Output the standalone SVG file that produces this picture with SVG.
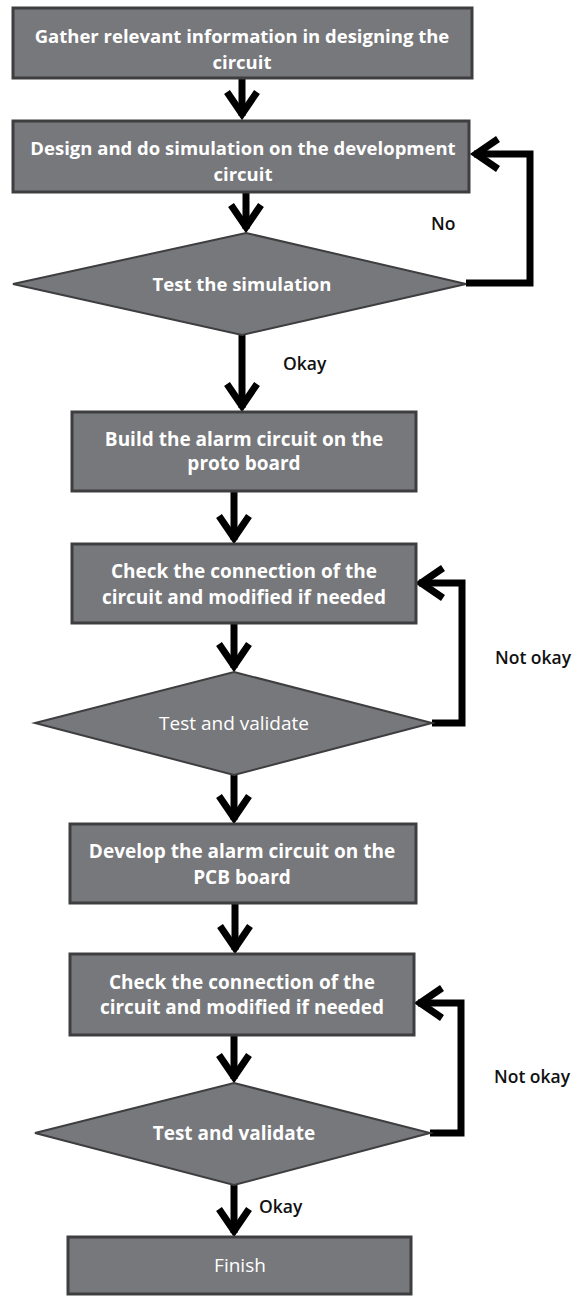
<svg xmlns="http://www.w3.org/2000/svg" width="576" height="1296" viewBox="0 0 576 1296">
<style>
.box{fill:#77787b;stroke:#3e3e40;stroke-width:3}
.dia{fill:#77787b;stroke:#3e3e40;stroke-width:2}
.t{font-family:"Open Sans","Liberation Sans",sans-serif;font-size:18.5px;font-weight:bold;fill:#ffffff;text-anchor:middle;dominant-baseline:central}
.b{font-size:19px}
.tr{font-weight:normal}
.lbl{font-family:"Open Sans","Liberation Sans",sans-serif;font-size:17.5px;font-weight:600;fill:#111;dominant-baseline:central}
.con{fill:none;stroke:#000;stroke-width:7;stroke-linejoin:miter}
</style>
<defs>
<marker id="chev" markerUnits="userSpaceOnUse" viewBox="-34 -22 40 44" markerWidth="40" markerHeight="44" refX="0" refY="0" orient="auto" overflow="visible">
<path d="M-24,-15 L-2,0 L-24,15" fill="none" stroke="#000" stroke-width="7" stroke-linejoin="miter"/>
</marker>
</defs>
<rect width="576" height="1296" fill="#fff"/>
<g id="connectors">
<path class="con" d="M242,78 V116" marker-end="url(#chev)"/>
<path class="con" d="M246,192 V229" marker-end="url(#chev)"/>
<path class="con" d="M242,335 V408" marker-end="url(#chev)"/>
<path class="con" d="M234,491 V540" marker-end="url(#chev)"/>
<path class="con" d="M234,623 V668" marker-end="url(#chev)"/>
<path class="con" d="M234,775 V820" marker-end="url(#chev)"/>
<path class="con" d="M235,903 V950" marker-end="url(#chev)"/>
<path class="con" d="M234,1035 V1079" marker-end="url(#chev)"/>
<path class="con" d="M234,1185 V1233" marker-end="url(#chev)"/>
<path class="con" d="M466,283 H530 V154 H474" marker-end="url(#chev)"/>
<path class="con" d="M432,723 H462 V583 H419" marker-end="url(#chev)"/>
<path class="con" d="M430,1133 H461 V1003 H418" marker-end="url(#chev)"/>
<text class="lbl" x="431" y="223">No</text>
<text class="lbl" x="283" y="363">Okay</text>
<text class="lbl" x="495" y="657">Not okay</text>
<text class="lbl" x="494" y="1076">Not okay</text>
<text class="lbl" x="259" y="1206">Okay</text>
</g>
<g id="n1">
<rect class="box" x="13" y="8" width="459" height="70"/>
<text class="t" x="242" y="35">Gather relevant information in designing the</text>
<text class="t" x="242" y="61">circuit</text>
</g>
<g id="n2">
<rect class="box" x="13" y="121" width="456" height="71"/>
<text class="t" x="243" y="147">Design and do simulation on the development</text>
<text class="t" x="243" y="173">circuit</text>
</g>
<g id="n3">
<polygon class="dia" points="246,233 466,284 242,335 13,284"/>
<text class="t" x="242" y="283">Test the simulation</text>
</g>
<g id="n4">
<rect class="box" x="72" y="412" width="344" height="79"/>
<text class="t b" x="244" y="439">Build the alarm circuit on the</text>
<text class="t b" x="244" y="463">proto board</text>
</g>
<g id="n5">
<rect class="box" x="72" y="544" width="344" height="79"/>
<text class="t b" x="244" y="571">Check the connection of the</text>
<text class="t b" x="244" y="597">circuit and modified if needed</text>
</g>
<g id="n6">
<polygon class="dia" points="234,672 432,723 234,775 35,723"/>
<text class="t b tr" x="234" y="723">Test and validate</text>
</g>
<g id="n7">
<rect class="box" x="70" y="824" width="346" height="79"/>
<text class="t b" x="242" y="851">Develop the alarm circuit on the</text>
<text class="t b" x="242" y="877">PCB board</text>
</g>
<g id="n8">
<rect class="box" x="70" y="954" width="344" height="81"/>
<text class="t b" x="242" y="982">Check the connection of the</text>
<text class="t b" x="242" y="1007">circuit and modified if needed</text>
</g>
<g id="n9">
<polygon class="dia" points="234,1083 430,1133 234,1185 35,1133"/>
<text class="t b" x="234" y="1133">Test and validate</text>
</g>
<g id="n10">
<rect class="box" x="68" y="1237" width="343" height="57"/>
<text class="t b tr" x="240" y="1265">Finish</text>
</g>
</svg>
